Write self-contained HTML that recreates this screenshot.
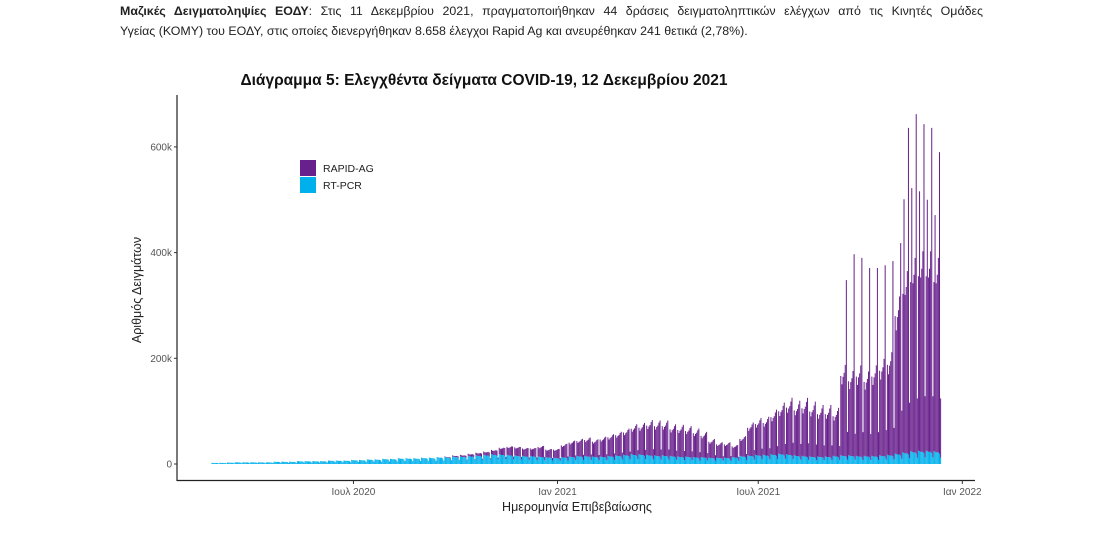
<!DOCTYPE html>
<html><head><meta charset="utf-8">
<style>
body{margin:0;background:#fff;width:1117px;height:553px;overflow:hidden;font-family:"Liberation Sans",sans-serif;}
.p{position:absolute;left:120px;width:863px;font-size:12.4px;color:#222;text-align:justify;text-align-last:justify;white-space:nowrap;}
</style></head><body>
<div class="p" style="top:4px"><b>Μαζικές Δειγματοληψίες ΕΟΔΥ</b>: Στις 11 Δεκεμβρίου 2021, πραγματοποιήθηκαν 44 δράσεις δειγματοληπτικών ελέγχων από τις Κινητές Ομάδες</div>
<div class="p" style="top:24px;text-align-last:left">Υγείας (ΚΟΜΥ) του ΕΟΔΥ, στις οποίες διενεργήθηκαν 8.658 έλεγχοι Rapid Ag και ανευρέθηκαν 241 θετικά (2,78%).</div>
<svg id="chart" width="1117" height="553" style="position:absolute;left:0;top:0">
<text x="484" y="85" text-anchor="middle" font-size="15.5" font-weight="bold" fill="#111">Διάγραμμα 5: Ελεγχθέντα δείγματα COVID-19, 12 Δεκεμβρίου 2021</text>
<g id="bars"></g>
<line x1="177" y1="95" x2="177" y2="481" stroke="#222" stroke-width="1.2"/>
<line x1="176.5" y1="480.5" x2="975" y2="480.5" stroke="#222" stroke-width="1.2"/>
<g id="axes"></g>
<text x="577" y="511" text-anchor="middle" font-size="12.5" fill="#222">Ημερομηνία Επιβεβαίωσης</text>
<text transform="translate(141,290) rotate(-90)" text-anchor="middle" font-size="12.5" fill="#222">Αριθμός Δειγμάτων</text>
<g>
<rect x="300" y="160" width="16" height="16" fill="#68208c"/>
<rect x="300" y="177" width="16" height="16" fill="#00b0ec"/>
<text x="323" y="172" font-size="10.5" fill="#222">RAPID-AG</text>
<text x="323" y="189" font-size="10.5" fill="#222">RT-PCR</text>
</g>
</svg>
<script>
// weekly data (thousands), week 0 starts 2020-02-24
const pcrWeek=[2,2,2.5,3,3,3,3,3,4,4,4,5,5,5,5,6,6,6,7,7,8,8,9,9,10,10,10,11,11,12,12,13,13,14,15,16,17,17,16,15,14,14,13,12,11,12,13,14,14,13,13,14,15,16,17,17,16,15,15,14,13,13,12,12,11,11,11,12,14,15,16,16,17,18,17,15,14,13,13,13,14,15,15,14,14,14,15,16,18,20,22,23,23,22];
const rapidWeek=[0,0,0,0,0,0,0,0,0,0,0,0,0,0,0,0,0,0,0,0,0,0,0,0,0,0,0,0,0,0,1,2,3,4,5,6,8,12,15,15,14,14,18,14,15,22,26,28,30,28,32,35,38,42,48,50,55,55,55,50,50,48,45,40,30,25,25,20,32,52,58,60,70,80,88,85,90,85,80,80,75,150,140,150,140,150,160,170,260,300,320,330,330,320];
const peakWeek=[0,0,0,0,0,0,0,0,0,0,0,0,0,0,0,0,0,0,0,0,0,0,0,0,0,0,0,0,0,0,0,0,0,0,0,0,0,0,0,0,0,0,0,0,0,0,0,0,0,0,0,0,0,0,0,0,0,0,0,0,0,0,0,0,0,0,0,0,0,0,0,0,0,0,0,0,0,0,0,0,0,348,397,390,371,371,376,384,418,636,662,643,636,590];
const peak2Week=[0,0,0,0,0,0,0,0,0,0,0,0,0,0,0,0,0,0,0,0,0,0,0,0,0,0,0,0,0,0,0,0,0,0,0,0,0,0,0,0,0,0,0,0,0,0,0,0,0,0,0,0,0,0,0,0,0,0,0,0,0,0,0,0,0,0,0,0,0,0,0,0,0,0,0,0,0,0,0,0,0,0,0,0,0,0,0,0,0,501,522,516,500,471];
const dowRapid=[1.0,0.9,1.0,1.05,1.15,1.25,0.35];
const dowPcr=[1.1,1.05,1.0,1.0,1.0,0.9,0.55];
const yTicks=[0,200,400,600];
const yTickLabels=["0","200k","400k","600k"];
const xTickDays=[128,312,493,677]; // days since 2020-02-24: Jul1 2020, Jan1 2021, Jul1 2021, Jan1 2022
const xTickLabels=["Ιουλ 2020","Ιαν 2021","Ιουλ 2021","Ιαν 2022"];

const x0=211.5, pxDay=1.109;
const xs=d=>x0+d*pxDay;
const ys=v=>464-v*105.7/200;
const NS="http://www.w3.org/2000/svg";
const bars=document.getElementById('bars'), axes=document.getElementById('axes');
for(let w=0;w<pcrWeek.length;w++){
  for(let d=0;d<7;d++){
    const day=w*7+d;
    const p=pcrWeek[w]*dowPcr[d];
    let r=rapidWeek[w]*dowRapid[d];
    if(d===5&&peakWeek[w]>0) r=peakWeek[w]-p;
    if(d===1&&peak2Week[w]>0) r=peak2Week[w]-p;
    const x=xs(day);
    const b=document.createElementNS(NS,'rect');
    b.setAttribute('x',x);b.setAttribute('width',1.0);
    b.setAttribute('y',ys(p));b.setAttribute('height',ys(0)-ys(p));
    b.setAttribute('fill','#00b0ec');
    
    
    bars.appendChild(b);
    if(r>0){
      const t=document.createElementNS(NS,'rect');
      t.setAttribute('x',x);t.setAttribute('width',1.0);
      t.setAttribute('y',ys(p+r));t.setAttribute('height',ys(p)-ys(p+r));
      t.setAttribute('fill','#68208c');
      
      
      bars.appendChild(t);
    }
  }
}
yTicks.forEach((v,i)=>{
  const l=document.createElementNS(NS,'line');
  l.setAttribute('x1',174);l.setAttribute('x2',177);l.setAttribute('y1',ys(v));l.setAttribute('y2',ys(v));
  l.setAttribute('stroke','#333');
  
  
  axes.appendChild(l);
  const t=document.createElementNS(NS,'text');
  t.setAttribute('x',172);t.setAttribute('y',ys(v)+3.5);t.setAttribute('text-anchor','end');
  t.setAttribute('font-size','10');t.setAttribute('fill','#555');
  t.textContent=yTickLabels[i];
  
  
  axes.appendChild(t);
});
xTickDays.forEach((d,i)=>{
  const l=document.createElementNS(NS,'line');
  l.setAttribute('x1',xs(d));l.setAttribute('x2',xs(d));l.setAttribute('y1',481);l.setAttribute('y2',484);
  l.setAttribute('stroke','#333');
  
  
  axes.appendChild(l);
  const t=document.createElementNS(NS,'text');
  t.setAttribute('x',xs(d));t.setAttribute('y',495);t.setAttribute('text-anchor','middle');
  t.setAttribute('font-size','10');t.setAttribute('fill','#555');
  t.textContent=xTickLabels[i];
  
  
  axes.appendChild(t);
});
</script>
</body></html>
